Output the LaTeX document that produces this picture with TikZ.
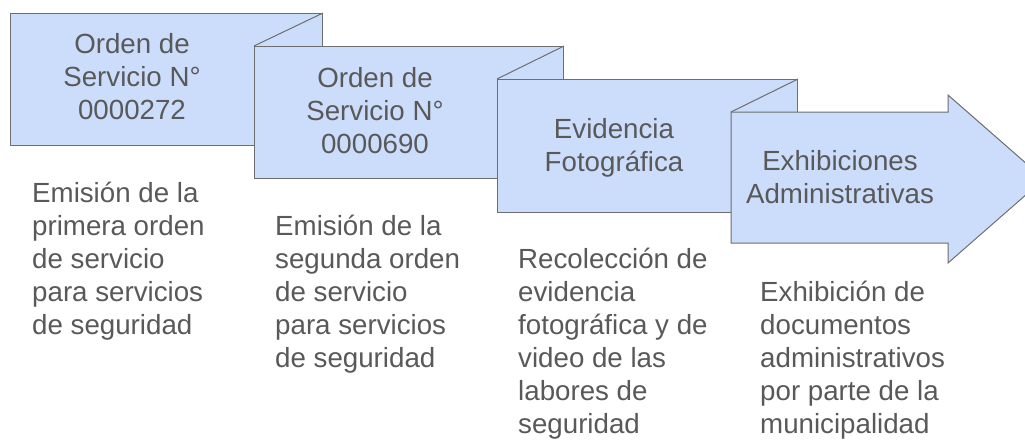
\documentclass[tikz,border=0pt]{standalone}
\usepackage{fontspec}
\setmainfont{Liberation Sans}
\definecolor{boxfill}{HTML}{CCDDFC}
\definecolor{boxline}{HTML}{6E6E6E}
\definecolor{txtgray}{HTML}{595959}
\begin{document}
\begin{tikzpicture}[x=1pt,y=-1pt,
  stepbox/.style={draw=boxline, fill=boxfill, line width=1pt, line join=miter, inner sep=0pt, anchor=north west},
  foldline/.style={draw=boxline, line width=1pt},
  boxtext/.style={font=\fontsize{27.7}{33}\selectfont, text=txtgray, align=center, inner sep=0pt, anchor=north},
  desctext/.style={font=\fontsize{27.7}{33}\selectfont, text=txtgray, align=left, inner sep=0pt, anchor=north west}]
\clip (0,0) rectangle (1025,440);
\fill[white] (0,0) rectangle (1025,440);
% boxes
\node[stepbox, minimum width=312pt, minimum height=132pt] (b1) at (10,13) {};
\node[stepbox, minimum width=309pt, minimum height=132pt] (b2) at (254,46) {};
\draw[foldline] (b1.north east) -- (b2.north west);
\node[stepbox, minimum width=300pt, minimum height=133pt] (b3) at (497,79) {};
\draw[foldline] (b2.north east) -- (b3.north west);
\coordinate (a1) at (731,112);
\coordinate (a2) at (948,112);
\coordinate (a3) at (948,95);
\coordinate (a4) at (1044,179);
\coordinate (a5) at (948,263);
\coordinate (a6) at (948,243);
\coordinate (a7) at (731,243);
\draw[stepbox] (a1) -- (a2) -- (a3) -- (a4) -- (a5) -- (a6) -- (a7) -- cycle;
\draw[foldline] (b3.north east) -- (a1);
% box texts
\node[boxtext] (t1) at (132,29.9) {\strut Orden de\\Servicio N°\\0000272};
\node[boxtext] (t2) at (375,63.9) {\strut Orden de\\Servicio N°\\0000690};
\node[boxtext] (t3) at (614,114.9) {\strut Evidencia\\Fotográfica};
\node[boxtext] (t4) at (840,146.9) {\strut Exhibiciones\\Administrativas};
% descriptions
\node[desctext] (d1) at (32,178.9) {\strut Emisión de la\\primera orden\\de servicio\\para servicios\\de seguridad};
\node[desctext] (d2) at (275,211.9) {\strut Emisión de la\\segunda orden\\de servicio\\para servicios\\de seguridad};
\node[desctext] (d3) at (518,244.9) {\strut Recolección de\\evidencia\\fotográfica y de\\video de las\\labores de\\seguridad};
\node[desctext] (d4) at (760,277.9) {\strut Exhibición de\\documentos\\administrativos\\por parte de la\\municipalidad};
\end{tikzpicture}
\end{document}
